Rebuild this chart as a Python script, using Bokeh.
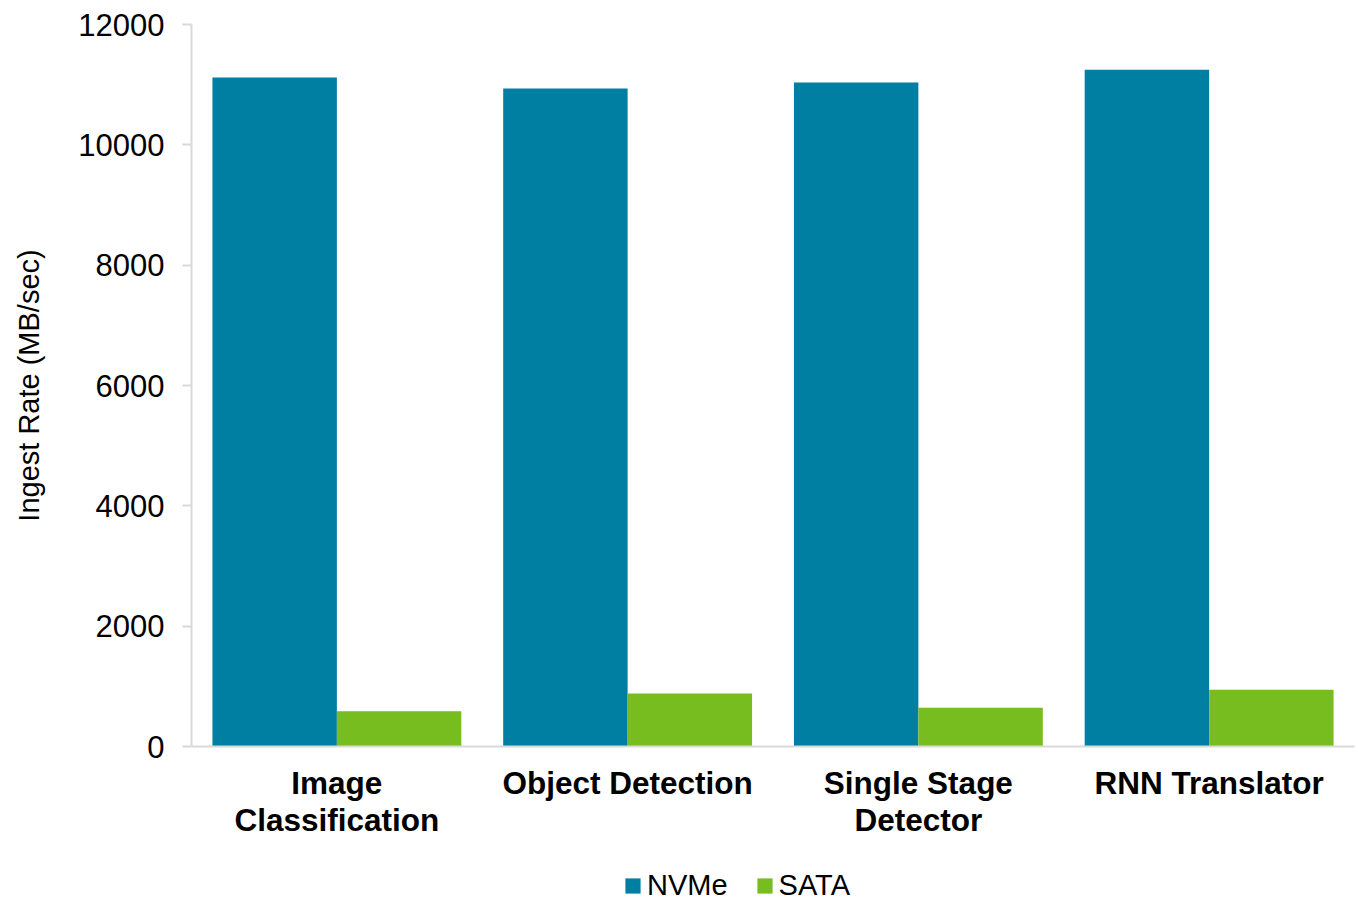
from bokeh.plotting import figure
from bokeh.layouts import column
from bokeh.models import FactorRange, Legend, LegendItem, FixedTicker
from bokeh.transform import dodge
from bokeh.embed import file_html
from bokeh.resources import INLINE

# Ingest rate per workload, NVMe vs SATA storage
categories = ["Image\nClassification", "Object Detection", "Single Stage\nDetector", "RNN Translator"]
nvme = [11120, 10935, 11035, 11250]
sata = [585, 880, 645, 945]
y_ticks = [0, 2000, 4000, 6000, 8000, 10000, 12000]
series_names = ["NVMe", "SATA"]

NVME_COLOR = "#017FA2"
SATA_COLOR = "#78BD20"
AXIS_GRAY = "#D9D9D9"
FONT = "Liberation Sans"

data = dict(cat=categories, nvme=nvme, sata=sata)

p = figure(
    x_range=FactorRange(factors=categories, range_padding=0),
    y_range=(0, 12000),
    width=1358, height=844,
    output_backend="svg", toolbar_location=None,
    min_border_left=191, min_border_right=4,
    min_border_top=24, min_border_bottom=98,
)

bar_w = 0.428
p.vbar(x=dodge("cat", -bar_w / 2, range=p.x_range), top="nvme", width=bar_w,
       source=data, fill_color=NVME_COLOR, line_color=None)
p.vbar(x=dodge("cat", bar_w / 2, range=p.x_range), top="sata", width=bar_w,
       source=data, fill_color=SATA_COLOR, line_color=None)

p.outline_line_color = None
p.background_fill_color = "white"
p.border_fill_color = "white"
p.xgrid.grid_line_color = None
p.ygrid.grid_line_color = None

# y axis
p.yaxis.ticker = FixedTicker(ticks=y_ticks)
p.yaxis.minor_tick_line_color = None
p.yaxis.axis_line_color = AXIS_GRAY
p.yaxis.axis_line_width = 2
p.yaxis.major_tick_line_color = AXIS_GRAY
p.yaxis.major_tick_line_width = 2
p.yaxis.major_tick_in = 0
p.yaxis.major_tick_out = 9
p.yaxis.major_label_standoff = 18
p.yaxis.major_label_text_font = FONT
p.yaxis.major_label_text_font_size = "31px"
p.yaxis.major_label_text_color = "black"
p.yaxis.axis_label = "Ingest Rate (MB/sec)"
p.yaxis.axis_label_text_font = FONT
p.yaxis.axis_label_text_font_size = "29px"
p.yaxis.axis_label_text_font_style = "normal"
p.yaxis.axis_label_text_color = "black"
p.yaxis.axis_label_standoff = 30

# x axis
p.xaxis.axis_line_color = AXIS_GRAY
p.xaxis.axis_line_width = 2
p.xaxis.major_tick_line_color = None
p.xaxis.major_tick_in = 0
p.xaxis.major_tick_out = 0
p.xaxis.major_label_standoff = 18
p.xaxis.major_label_text_font = FONT
p.xaxis.major_label_text_font_size = "31.5px"
p.xaxis.major_label_text_font_style = "bold"
p.xaxis.major_label_text_color = "black"
p.xaxis.major_label_text_line_height = 1.05

# legend strip under the chart; its renderers hold a single NaN row,
# so only their swatches appear in the legend
leg = figure(
    width=1358, height=58, x_range=(0, 1), y_range=(0, 1),
    output_backend="svg", toolbar_location=None,
    min_border=0, outline_line_color=None,
)
leg.axis.visible = False
leg.grid.visible = False
nan = float("nan")
leg_nvme = leg.vbar(x=[nan], top=[nan], width=1, fill_color=NVME_COLOR, line_color=None)
leg_sata = leg.vbar(x=[nan], top=[nan], width=1, fill_color=SATA_COLOR, line_color=None)

legend = Legend(
    items=[LegendItem(label=series_names[0], renderers=[leg_nvme]),
           LegendItem(label=series_names[1], renderers=[leg_sata])],
    orientation="horizontal",
    location=(432, 0),
    glyph_width=19, glyph_height=19,
    label_standoff=5, spacing=27,
    padding=0, margin=0,
    border_line_color=None, background_fill_alpha=0,
    label_text_font=FONT, label_text_font_size="29px", label_text_color="black",
)
leg.add_layout(legend, "center")

open("out.html", "w").write(file_html(column(p, leg, spacing=0), INLINE))
